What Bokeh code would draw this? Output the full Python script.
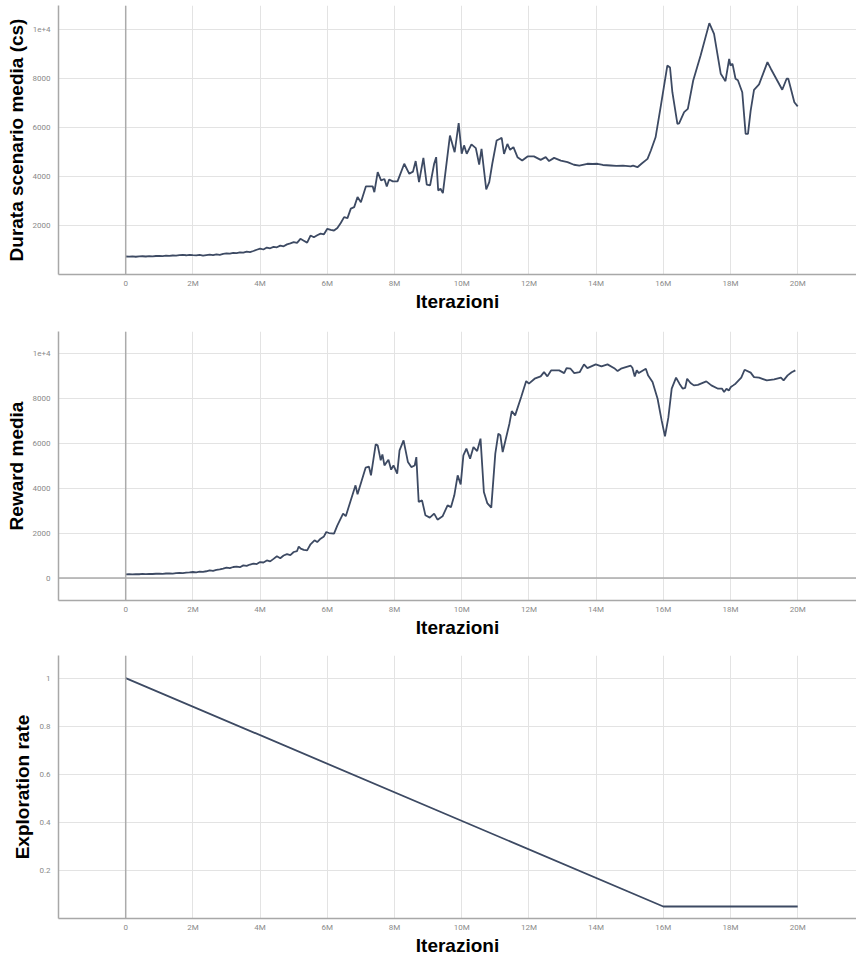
from bokeh.plotting import figure
from bokeh.layouts import column
from bokeh.models import FixedTicker, Span, Range1d
from bokeh.embed import file_html
from bokeh.resources import INLINE

# ---- data (x in millions of iterations) ----
dur_x = [0.0, 0.1, 0.2, 0.3, 0.4, 0.5, 0.6, 0.7, 0.8, 0.9, 1.0, 1.1, 1.2, 1.3, 1.4, 1.5, 1.6, 1.7, 1.8, 1.9,
         2.0, 2.1, 2.2, 2.3, 2.4, 2.5, 2.6, 2.7, 2.8, 2.9, 3.0, 3.1, 3.2, 3.3, 3.4, 3.5, 3.6, 3.7, 3.8, 3.9,
         4.0, 4.1, 4.2, 4.3, 4.4, 4.5, 4.6, 4.7, 4.8, 4.9, 5.0, 5.1, 5.2, 5.3, 5.4, 5.5, 5.6, 5.7, 5.8, 5.9,
         6.0, 6.1, 6.2, 6.3, 6.4, 6.5, 6.6, 6.7, 6.8, 6.9, 7.0, 7.15, 7.35, 7.4, 7.5, 7.6, 7.7, 7.77, 7.84, 7.95,
         8.09, 8.29, 8.44, 8.55, 8.63, 8.73, 8.86, 8.96, 9.06, 9.18, 9.24, 9.3, 9.37, 9.44, 9.65, 9.79, 9.91, 10.0,
         10.07, 10.15, 10.29, 10.42, 10.52, 10.59, 10.73, 10.82, 10.91, 11.04, 11.14, 11.19, 11.26, 11.36, 11.44,
         11.54, 11.66, 11.8, 11.96, 12.15, 12.35, 12.5, 12.6, 12.75, 12.95, 13.15, 13.34, 13.5, 13.74, 13.9, 14.04,
         14.2, 14.43, 14.6, 14.8, 15.03, 15.1, 15.23, 15.35, 15.53, 15.63, 15.77, 15.92, 16.12, 16.2, 16.27, 16.42,
         16.47, 16.62, 16.73, 16.89, 17.11, 17.37, 17.51, 17.71, 17.85, 17.96, 18.0, 18.06, 18.15, 18.22, 18.35,
         18.45, 18.52, 18.6, 18.7, 18.85, 19.1, 19.2, 19.54, 19.67, 19.72, 19.9, 20.0]
dur_y = [735, 728, 740, 725, 738, 745, 735, 750, 742, 755, 760, 752, 768, 760, 775, 770, 790, 800, 785, 805,
         790, 780, 800, 770, 795, 810, 790, 820, 805, 840, 860, 850, 880, 870, 905, 890, 930, 915, 960, 1010,
         1060, 1020, 1100, 1070, 1130, 1110, 1180, 1150, 1230, 1270, 1320, 1290, 1456, 1380, 1300, 1590, 1520, 1600, 1670, 1640,
         1865, 1820, 1796, 1900, 2100, 2340, 2300, 2690, 2750, 3160, 2950, 3600, 3600, 3360, 4180, 3840, 3900, 3590, 3880, 3800,
         3800, 4520, 4110, 4200, 4630, 3770, 4760, 3670, 3640, 4520, 4790, 3430, 3500, 3320, 5670, 4990, 6180, 4930,
         5270, 4930, 5310, 5160, 4490, 5130, 3470, 3770, 4520, 5470, 5540, 5580, 4920, 5330, 5090,
         5200, 4790, 4650, 4820, 4820, 4680, 4790, 4630, 4760, 4650, 4590, 4480, 4440, 4520, 4510, 4520,
         4470, 4450, 4430, 4440, 4410, 4440, 4380, 4520, 4720, 5060, 5600, 6830, 8530, 8450, 7440, 6150,
         6170, 6630, 6760, 7920, 8940, 10260, 9820, 8190, 7890, 8800, 8530, 8600, 7990, 7930, 7440,
         5740, 5740, 6690, 7540, 7760, 8670, 8400, 7540, 7990, 7990, 7030, 6860]

rew_x = [0.0, 0.1, 0.2, 0.3, 0.4, 0.5, 0.6, 0.7, 0.8, 0.9, 1.0, 1.1, 1.2, 1.3, 1.4, 1.5, 1.6, 1.7, 1.8, 1.9,
         2.0, 2.1, 2.2, 2.3, 2.4, 2.5, 2.6, 2.7, 2.8, 2.9, 3.0, 3.1, 3.2, 3.3, 3.4, 3.5, 3.6, 3.7, 3.8, 3.9,
         4.0, 4.1, 4.2, 4.3, 4.4, 4.5, 4.6, 4.7, 4.8, 4.9, 5.0, 5.1, 5.15, 5.21, 5.3, 5.4, 5.5, 5.62, 5.7, 5.8,
         5.9, 5.97, 6.05, 6.2, 6.3, 6.47, 6.55, 6.69, 6.84, 6.9, 7.14, 7.24, 7.3, 7.44, 7.5, 7.59, 7.64, 7.7,
         7.82, 7.9, 7.97, 8.08, 8.15, 8.27, 8.4, 8.5, 8.6, 8.65, 8.72, 8.82, 8.92, 9.05, 9.18, 9.28, 9.43, 9.58,
         9.68, 9.78, 9.88, 9.97, 10.05, 10.14, 10.25, 10.35, 10.46, 10.56, 10.66, 10.76, 10.88, 11.0, 11.09, 11.15,
         11.22, 11.3, 11.42, 11.49, 11.59, 11.77, 11.92, 12.0, 12.17, 12.35, 12.45, 12.55, 12.66, 12.9, 13.05, 13.12,
         13.24, 13.35, 13.51, 13.64, 13.74, 13.99, 14.16, 14.34, 14.54, 14.64, 14.74, 15.03, 15.08, 15.15, 15.21,
         15.27, 15.48, 15.55, 15.68, 15.83, 15.95, 16.05, 16.15, 16.25, 16.38, 16.48, 16.58, 16.65, 16.71, 16.81,
         16.91, 17.03, 17.28, 17.43, 17.63, 17.75, 17.81, 17.88, 17.95, 18.01, 18.08, 18.15, 18.32, 18.42, 18.6,
         18.7, 18.85, 19.08, 19.3, 19.5, 19.58, 19.7, 19.82, 19.93]
rew_y = [164, 170, 160, 175, 168, 180, 172, 185, 178, 190, 195, 185, 200, 210, 198, 215, 225, 218, 240, 250,
         267, 255, 280, 275, 300, 340, 320, 360, 380, 420, 462, 440, 490, 510, 480, 560, 540, 600, 640, 620,
         711, 690, 780, 740, 850, 964, 880, 1000, 1060, 1020, 1156, 1200, 1400, 1307, 1250, 1231, 1500, 1675, 1600, 1750,
         1850, 2045, 2000, 1973, 2342, 2862, 2750, 3409, 4120, 3720, 4906, 4950, 4564, 5942, 5900, 5231, 5497, 5008,
         5262, 4817, 5008, 4640, 5675, 6120, 5155, 4933, 5000, 5377, 3378, 3453, 2787, 2684, 2862, 2595, 2742, 3231,
         3150, 3675, 4564, 4164, 5453, 5750, 5306, 5822, 5644, 6195, 3822, 3333, 3128, 5528, 6417, 6350,
         5600, 6100, 6862, 7422, 7230, 8044, 8755, 8640, 8861, 8964, 9155, 8964, 9230, 9230, 9111, 9330,
         9305, 9111, 9150, 9497, 9330, 9497, 9408, 9497, 9330, 9200, 9305, 9438, 9350, 8964, 9230,
         9111, 9305, 9000, 8711, 7970, 7008, 6297, 7128, 8417, 8906, 8640, 8417, 8450, 8862, 8670,
         8564, 8590, 8742, 8564, 8417, 8417, 8266, 8417, 8340, 8490, 8564, 8640, 8906, 9260, 9130,
         8933, 8906, 8786, 8830, 8906, 8786, 9008, 9150, 9230]

eps_x = [0, 16, 20]
eps_y = [1.0, 0.05, 0.05]

x_ticks = [0, 2, 4, 6, 8, 10, 12, 14, 16, 18, 20]
x_labels = ["0", "2M", "4M", "6M", "8M", "10M", "12M", "14M", "16M", "18M", "20M"]

dur_ticks = [2000, 4000, 6000, 8000, 10000]
dur_labels = ["2000", "4000", "6000", "8000", "1e+4"]
rew_ticks = [0, 2000, 4000, 6000, 8000, 10000]
rew_labels = ["0", "2000", "4000", "6000", "8000", "1e+4"]
eps_ticks = [0.2, 0.4, 0.6, 0.8, 1.0]
eps_labels = ["0.2", "0.4", "0.6", "0.8", "1"]

LINE = "#3d4a63"
GRID = "#e3e3e3"
ZERO = "#ababab"
TITLE_FONT = "Liberation Sans"


def make_fig(height, top, bottom, yr, yticks, ylabels, ylabel, xs, ys, zero_h=False):
    p = figure(width=856, height=height, x_range=Range1d(-2, 21.75), y_range=Range1d(*yr),
               output_backend="svg", toolbar_location=None,
               min_border_left=58, min_border_right=0, min_border_top=top, min_border_bottom=bottom)
    p.outline_line_color = None
    p.background_fill_color = "white"
    p.border_fill_color = "white"

    for ax in (p.xaxis[0], p.yaxis[0]):
        ax.axis_line_color = "#a8a8a8"
        ax.axis_line_width = 1.5
        ax.major_tick_line_color = None
        ax.minor_tick_line_color = None
        ax.major_tick_out = 0
        ax.major_tick_in = 0
        ax.minor_tick_out = 0
        ax.minor_tick_in = 0
        ax.major_label_text_color = "#8a8a8a"
        ax.major_label_text_font = "Roboto"
        ax.major_label_text_font_size = "8px"
        ax.axis_label_text_font = TITLE_FONT
        ax.axis_label_text_font_style = "bold"
        ax.axis_label_text_font_size = "19px"
        ax.axis_label_text_color = "black"

    p.xaxis.ticker = FixedTicker(ticks=x_ticks)
    p.xaxis.major_label_overrides = {t: l for t, l in zip(x_ticks, x_labels)}
    p.xaxis.axis_label = "Iterazioni"
    p.xaxis.major_label_standoff = 4
    p.xaxis.axis_label_standoff = 0

    p.yaxis.ticker = FixedTicker(ticks=yticks)
    p.yaxis.major_label_overrides = {t: l for t, l in zip(yticks, ylabels)}
    p.yaxis.axis_label = ylabel
    p.yaxis.major_label_standoff = 8
    p.yaxis.axis_label_standoff = 3

    p.xgrid.grid_line_color = GRID
    p.ygrid.grid_line_color = GRID
    p.xgrid.grid_line_width = 1
    p.ygrid.grid_line_width = 1

    p.add_layout(Span(location=0, dimension="height", line_color=ZERO, line_width=1.5))
    if zero_h:
        p.add_layout(Span(location=0, dimension="width", line_color=ZERO, line_width=1.5))

    p.line(xs, ys, line_color=LINE, line_width=1.8)
    return p


p1 = make_fig(318, 5, 44, (0, 10980), dur_ticks, dur_labels, "Durata scenario media (cs)", dur_x, dur_y)
p2 = make_fig(322, 13, 40, (-1000, 10960), rew_ticks, rew_labels, "Reward media", rew_x, rew_y, zero_h=True)
p3 = make_fig(318, 15, 35, (0, 1.094), eps_ticks, eps_labels, "Exploration rate", eps_x, eps_y)

layout = column(p1, p2, p3, spacing=0)
open("out.html", "w").write(file_html(layout, INLINE))
